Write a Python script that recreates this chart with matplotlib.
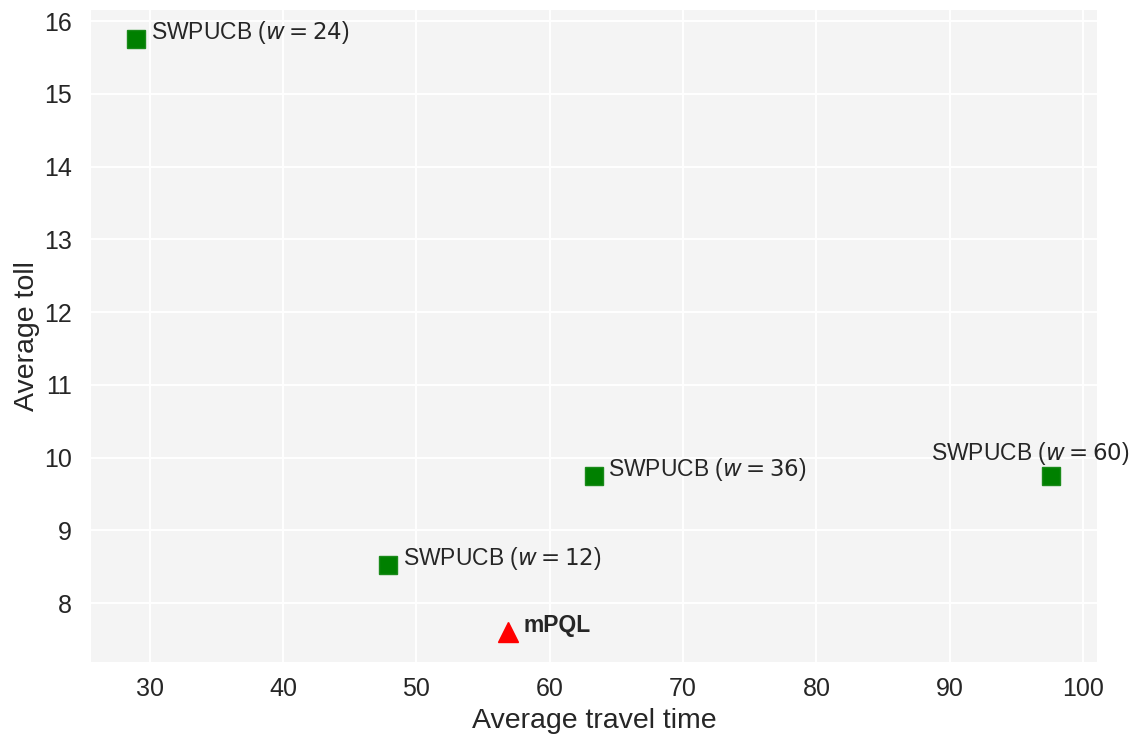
import matplotlib.pyplot as plt

# average travel time / average toll for each policy
swpucb_w = [24, 12, 36, 60]
swpucb_time = [29.0, 47.9, 63.3, 97.6]
swpucb_toll = [15.75, 8.52, 9.75, 9.75]

mpql_time = 56.9
mpql_toll = 7.6

plt.rcParams['font.family'] = ['Liberation Sans', 'DejaVu Sans']
plt.rcParams['text.color'] = '#262626'
plt.rcParams['axes.labelcolor'] = '#262626'
plt.rcParams['xtick.color'] = '#262626'
plt.rcParams['ytick.color'] = '#262626'

fig = plt.figure(figsize=(11.31, 7.35), dpi=100)
ax = fig.add_axes([0.0805, 0.0993, 0.8895, 0.8867])
ax.set_facecolor('#f4f4f4')
for s in ax.spines.values():
    s.set_visible(False)
ax.grid(True, color='white', linewidth=1.4)
ax.set_axisbelow(True)
ax.tick_params(length=0, labelsize=18)
ax.tick_params(axis='x', pad=11)
ax.tick_params(axis='y', pad=14)

ax.plot(swpucb_time, swpucb_toll, 's', color='green', ms=13.5,
        mec='#1a8a1a', mew=1, linestyle='none')
ax.plot([mpql_time], [mpql_toll], '^', color='red', ms=14, linestyle='none')

for w, t, c in zip(swpucb_w, swpucb_time, swpucb_toll):
    lbl = 'SWPUCB ($w = %d$)' % w
    if w == 60:
        ax.text(t - 9.0, c + 0.22, lbl, fontsize=16.5, va='baseline')
    else:
        ax.text(t + 1.1, c, lbl, fontsize=16.5, va='baseline')
ax.text(mpql_time + 1.1, mpql_toll, 'mPQL', fontsize=16.5,
        fontweight='bold', va='baseline')

ax.set_xlim(25.6, 101.05)
ax.set_ylim(7.19, 16.15)
ax.set_xticks([30, 40, 50, 60, 70, 80, 90, 100])
ax.set_yticks([8, 9, 10, 11, 12, 13, 14, 15, 16])
ax.set_xlabel('Average travel time', fontsize=20.5, labelpad=5)
ax.set_ylabel('Average toll', fontsize=20.5, labelpad=3)

fig.savefig('out.png', dpi=100)
